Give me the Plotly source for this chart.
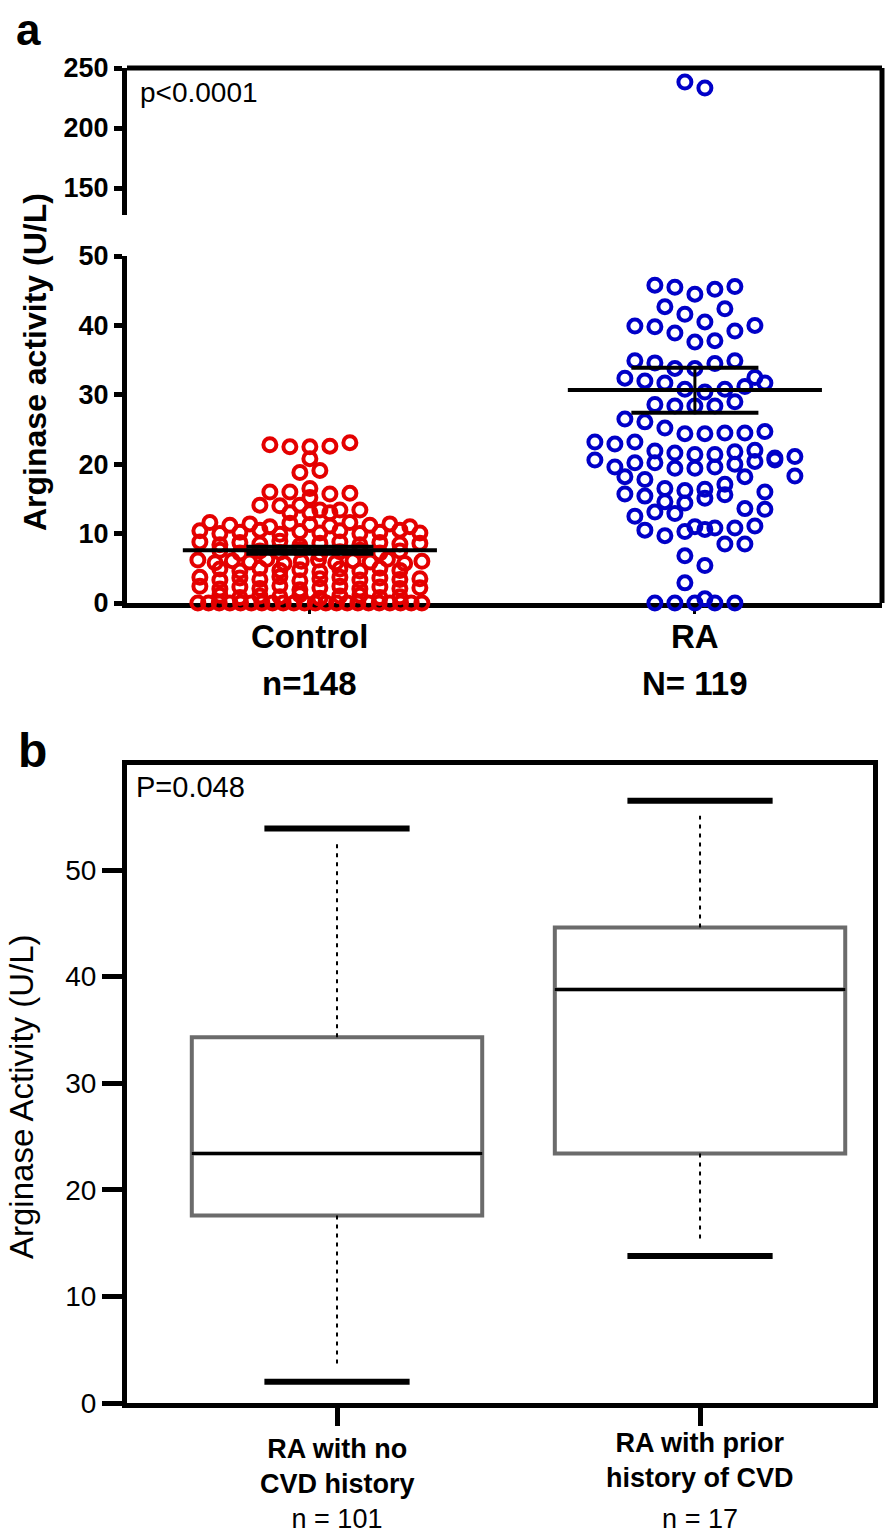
import plotly.graph_objects as go

# ---- data ----
groups_a = ["Control", "RA"]
counts_a = ["n=148", "N= 119"]

control_values = [
    22.8, 22.5, 20.8, 22.5, 22.6, 23.1,
    18.8, 19.1,
    16.0, 16.0, 16.5,
    15.7, 15.2, 15.8,
    14.1, 14.0, 14.1,
    13.4, 13.0, 13.0, 13.0, 13.4, 13.4,
    11.6, 11.2, 11.4, 11.0, 11.5, 11.3, 11.1, 11.6, 11.2, 11.4, 11.0,
    10.4, 10.0, 10.2, 10.5, 9.9, 10.3, 10.1, 10.4, 10.0, 10.2, 10.5, 10.1,
    8.8, 8.4, 8.7, 8.5, 8.9, 8.3, 8.6, 8.8, 8.4, 8.7, 8.5, 8.6,
    7.6, 7.2, 7.5, 7.3, 7.7, 7.1, 7.4, 7.6, 7.2, 7.5,
    6.2, 5.8, 6.1, 5.9, 6.3, 5.7, 6.0, 6.2, 5.8, 6.1, 5.9, 6.3, 5.7, 6.0,
    4.9, 4.6, 5.0, 4.7, 4.8, 4.5, 4.9, 4.6, 5.0, 4.7,
    3.7, 3.3, 3.6, 3.4, 3.8, 3.2, 3.5, 3.7, 3.3, 3.6, 3.4, 3.5,
    2.4, 2.0, 2.3, 2.1, 2.5, 1.9, 2.2, 2.4, 2.0, 2.3, 2.1, 2.2,
    1.1, 0.8, 1.0, 0.9, 1.2, 0.7, 1.0, 1.1, 0.8, 0.9,
    0.0, 0.0, 0.0, 0.0, 0.0, 0.0, 0.0, 0.0, 0.0, 0.0, 0.0,
    0.0, 0.0, 0.0, 0.0, 0.0, 0.0, 0.0, 0.0, 0.0, 0.0, 0.0,
]

ra_values = [
    45.8, 45.5, 44.5, 45.2, 45.6,
    42.7, 41.6, 40.5, 42.4,
    39.9, 39.8, 38.9, 37.6, 37.8, 39.2, 40.0,
    34.9, 34.6, 33.8, 33.8, 34.5, 34.9,
    32.4, 32.0, 31.7, 30.8, 30.4, 30.8, 31.2, 31.7, 32.5,
    28.6, 28.4, 26.5, 26.1, 28.4, 28.4, 29.0,
    25.2, 24.4, 24.4, 23.2, 22.9, 23.2, 24.5, 24.5, 24.7,
    21.9, 21.6, 21.4, 21.4, 21.8, 22.0,
    20.9, 20.6, 19.6, 20.2, 20.2, 19.4, 19.4, 19.6, 20.0, 20.4, 20.6, 21.1,
    18.2, 17.8, 16.5, 16.2, 16.4, 17.1, 18.2, 18.3,
    15.7, 15.4, 14.6, 14.4, 15.1, 15.6, 16.0,
    12.5, 13.6, 13.1, 12.9, 13.5,
    11.0, 10.8, 10.5, 9.7, 10.3, 10.6, 10.8, 11.1,
    8.5, 8.5,
    6.8, 5.4,
    2.9,
    0.0, 0.0, 0.0, 0.0, 0.0, 0.6,
]
ra_values_high = [238.3, 233.3]

means_a = [7.6, 30.7]
sem_low_a = [7.1, 27.4]
sem_high_a = [8.1, 33.9]

groups_b = ["RA with no<br>CVD history", "RA with prior<br>history of CVD"]
counts_b = ["n = 101", "n = 17"]
whisker_low_b = [2.0, 13.8]
q1_b = [17.6, 23.4]
median_b = [23.4, 38.8]
q3_b = [34.3, 44.6]
whisker_high_b = [53.9, 56.5]

# ---- layout helpers (pixel -> paper) ----
W, H = 892, 1537
FONT = "Liberation Sans, Arial, sans-serif"
RED = "rgb(228,0,0)"
BLUE = "rgb(0,0,200)"
GREY = "#6b6b6b"


def px_x(p):
    return p / W


def px_y(p):
    return 1 - p / H


xa_dom = [px_x(127), px_x(882)]
ya_low_dom = [px_y(603), px_y(256)]
ya_high_dom = [px_y(215), px_y(68)]
xa_range = [0.525, 2.486]
xa_px_per_unit = (882 - 127) / (xa_range[1] - xa_range[0])

xb_dom = [px_x(127), px_x(873)]
yb_dom = [px_y(1403), px_y(765)]
xb_range = [0.4215, 2.4765]
yb_range = [0, 59.85]


def swarm(values, center, bin_size, step_px, half_px):
    """GraphPad-like scatter: bin values into rows, centre each row."""
    order = sorted(range(len(values)), key=lambda i: -values[i])
    rows = []
    for i in order:
        if rows and values[rows[-1][0]] - values[i] < bin_size:
            rows[-1].append(i)
        else:
            rows.append([i])
    xs = [center] * len(values)
    for row in rows:
        row.sort()
        n = len(row)
        step = step_px if n == 1 else min(step_px, 2 * half_px / (n - 1))
        for k, i in enumerate(row):
            xs[i] = center + (k - (n - 1) / 2) * step / xa_px_per_unit
    return xs


fig = go.Figure()

marker_style = dict(symbol="circle-open", size=13, line=dict(width=4))

# panel a: dot plots
fig.add_trace(go.Scatter(
    x=swarm(control_values, 1, 1.0, 20, 112), y=control_values,
    mode="markers", marker=dict(color=RED, **marker_style),
    xaxis="x", yaxis="y", cliponaxis=False, showlegend=False,
))
fig.add_trace(go.Scatter(
    x=swarm(ra_values, 2, 2.4, 20, 112), y=ra_values,
    mode="markers", marker=dict(color=BLUE, **marker_style),
    xaxis="x", yaxis="y", cliponaxis=False, showlegend=False,
))
fig.add_trace(go.Scatter(
    x=swarm(ra_values_high, 2, 13, 20, 112), y=ra_values_high,
    mode="markers", marker=dict(color=BLUE, **marker_style),
    xaxis="x", yaxis="y2", cliponaxis=False, showlegend=False,
))

# mean +/- SEM
mx, my, sx, sy, vx, vy = [], [], [], [], [], []
for i, (m, lo, hi) in enumerate(zip(means_a, sem_low_a, sem_high_a)):
    c = i + 1
    mx += [c - 0.33, c + 0.33, None]
    my += [m, m, None]
    sx += [c - 0.165, c + 0.165, None, c - 0.165, c + 0.165, None]
    sy += [lo, lo, None, hi, hi, None]
    vx += [c, c, None]
    vy += [lo, hi, None]
for xs_, ys_, w in [(mx, my, 4), (sx, sy, 4), (vx, vy, 3)]:
    fig.add_trace(go.Scatter(x=xs_, y=ys_, mode="lines",
                             line=dict(color="black", width=w),
                             xaxis="x", yaxis="y", showlegend=False,
                             cliponaxis=False))

# panel b: box plots
pos_b = [1, 2]
fig.add_trace(go.Box(
    x=pos_b, q1=q1_b, median=median_b, q3=q3_b,
    lowerfence=q1_b, upperfence=q3_b, width=0.8,
    line=dict(color=GREY, width=4), fillcolor="white",
    xaxis="x2", yaxis="y3", showlegend=False, hoverinfo="skip",
))
gap = 1.4
wx, wy, cx, cy, dx, dy = [], [], [], [], [], []
for c, lo, q1, med, q3, hi in zip(pos_b, whisker_low_b, q1_b, median_b, q3_b, whisker_high_b):
    wx += [c, c, None, c, c, None]
    wy += [q3, hi - gap, None, q1, lo + gap, None]
    cx += [c - 0.2, c + 0.2, None, c - 0.2, c + 0.2, None]
    cy += [hi, hi, None, lo, lo, None]
    dx += [c - 0.4, c + 0.4, None]
    dy += [med, med, None]
fig.add_trace(go.Scatter(x=wx, y=wy, mode="lines",
                         line=dict(color="black", width=2, dash="4px,5px"),
                         xaxis="x2", yaxis="y3", showlegend=False))
fig.add_trace(go.Scatter(x=cx, y=cy, mode="lines",
                         line=dict(color="black", width=6),
                         xaxis="x2", yaxis="y3", showlegend=False))
fig.add_trace(go.Scatter(x=dx, y=dy, mode="lines",
                         line=dict(color="black", width=3),
                         xaxis="x2", yaxis="y3", showlegend=False))

axis_common = dict(showgrid=False, zeroline=False, showline=True,
                   linecolor="black", ticks="outside", tickcolor="black",
                   automargin=False)

fig.update_layout(
    width=W, height=H, autosize=False,
    margin=dict(l=0, r=0, t=0, b=0, pad=0),
    plot_bgcolor="white", paper_bgcolor="white",
    font=dict(family=FONT, color="black"),
    title=dict(text="<b>a</b>", x=px_x(16), xanchor="left", xref="paper",
               yref="container", y=px_y(30), yanchor="middle",
               font=dict(size=44), automargin=False),
    xaxis=dict(domain=xa_dom, range=xa_range, anchor="y", linewidth=5,
               tickvals=[1, 2], ticklen=6, tickwidth=3, showticklabels=False,
               layer="below traces", **axis_common),
    yaxis=dict(domain=ya_low_dom, range=[0, 50], anchor="x", linewidth=5,
               tickvals=[0, 10, 20, 30, 40, 50], ticklen=8, tickwidth=5,
               tickfont=dict(size=27, weight="bold"), **axis_common),
    yaxis2=dict(domain=ya_high_dom, range=[127.5, 250], anchor="x", linewidth=5,
                tickvals=[150, 200, 250], ticklen=8, tickwidth=5,
                tickfont=dict(size=27, weight="bold"), **axis_common),
    xaxis2=dict(domain=xb_dom, range=xb_range, anchor="y3", linewidth=5,
                tickvals=pos_b, ticktext=counts_b, ticklen=18, tickwidth=5,
                tickfont=dict(size=27), ticklabelstandoff=70,
                mirror=True, **axis_common),
    yaxis3=dict(domain=yb_dom, range=yb_range, anchor="x2", linewidth=5,
                tickvals=[0, 10, 20, 30, 40, 50], ticklen=20, tickwidth=5,
                tickfont=dict(size=28), mirror=True, **axis_common),
)

# frame of panel a (top and right)
fig.add_shape(type="line", xref="paper", yref="paper",
              x0=xa_dom[0], x1=xa_dom[1], y0=ya_high_dom[1], y1=ya_high_dom[1],
              line=dict(color="black", width=5))
fig.add_shape(type="line", xref="paper", yref="paper",
              x0=xa_dom[1], x1=xa_dom[1], y0=ya_low_dom[0], y1=ya_high_dom[1],
              line=dict(color="black", width=5))

ann = []
ann.append(dict(text="<b>b</b>", x=px_x(16), y=px_y(722), xanchor="left", yanchor="top",
                font=dict(size=48)))
ann.append(dict(text="p<0.0001", x=px_x(138), y=px_y(92), xanchor="left", yanchor="middle",
                font=dict(size=28)))
ann.append(dict(text="P=0.048", x=px_x(134), y=px_y(787), xanchor="left", yanchor="middle",
                font=dict(size=29)))
ann.append(dict(text="<b>Arginase activity (U/L)</b>", x=px_x(35), y=px_y(362),
                textangle=-90, xanchor="center", yanchor="middle", font=dict(size=32)))
ann.append(dict(text="Arginase Activity (U/L)", x=px_x(21), y=px_y(1097),
                textangle=-90, xanchor="center", yanchor="middle", font=dict(size=33)))
for i, (g, n) in enumerate(zip(groups_a, counts_a)):
    ann.append(dict(text=f"<b>{g}</b>", xref="x", x=i + 1, y=px_y(637),
                    xanchor="center", yanchor="middle", font=dict(size=33)))
    ann.append(dict(text=f"<b>{n}</b>", xref="x", x=i + 1, y=px_y(683),
                    xanchor="center", yanchor="middle", font=dict(size=33)))
for i, (g, ly) in enumerate(zip(groups_b, [1466, 1460])):
    ann.append(dict(text=g, xref="x2", x=pos_b[i], y=px_y(ly),
                    xanchor="center", yanchor="middle",
                    font=dict(size=27, weight="bold")))
for a in ann:
    a.setdefault("xref", "paper")
    a.setdefault("yref", "paper")
    a["showarrow"] = False
fig.update_layout(annotations=ann)

fig.write_html("out.html", config={"displayModeBar": False},
               post_script="document.body.style.margin='0';")
